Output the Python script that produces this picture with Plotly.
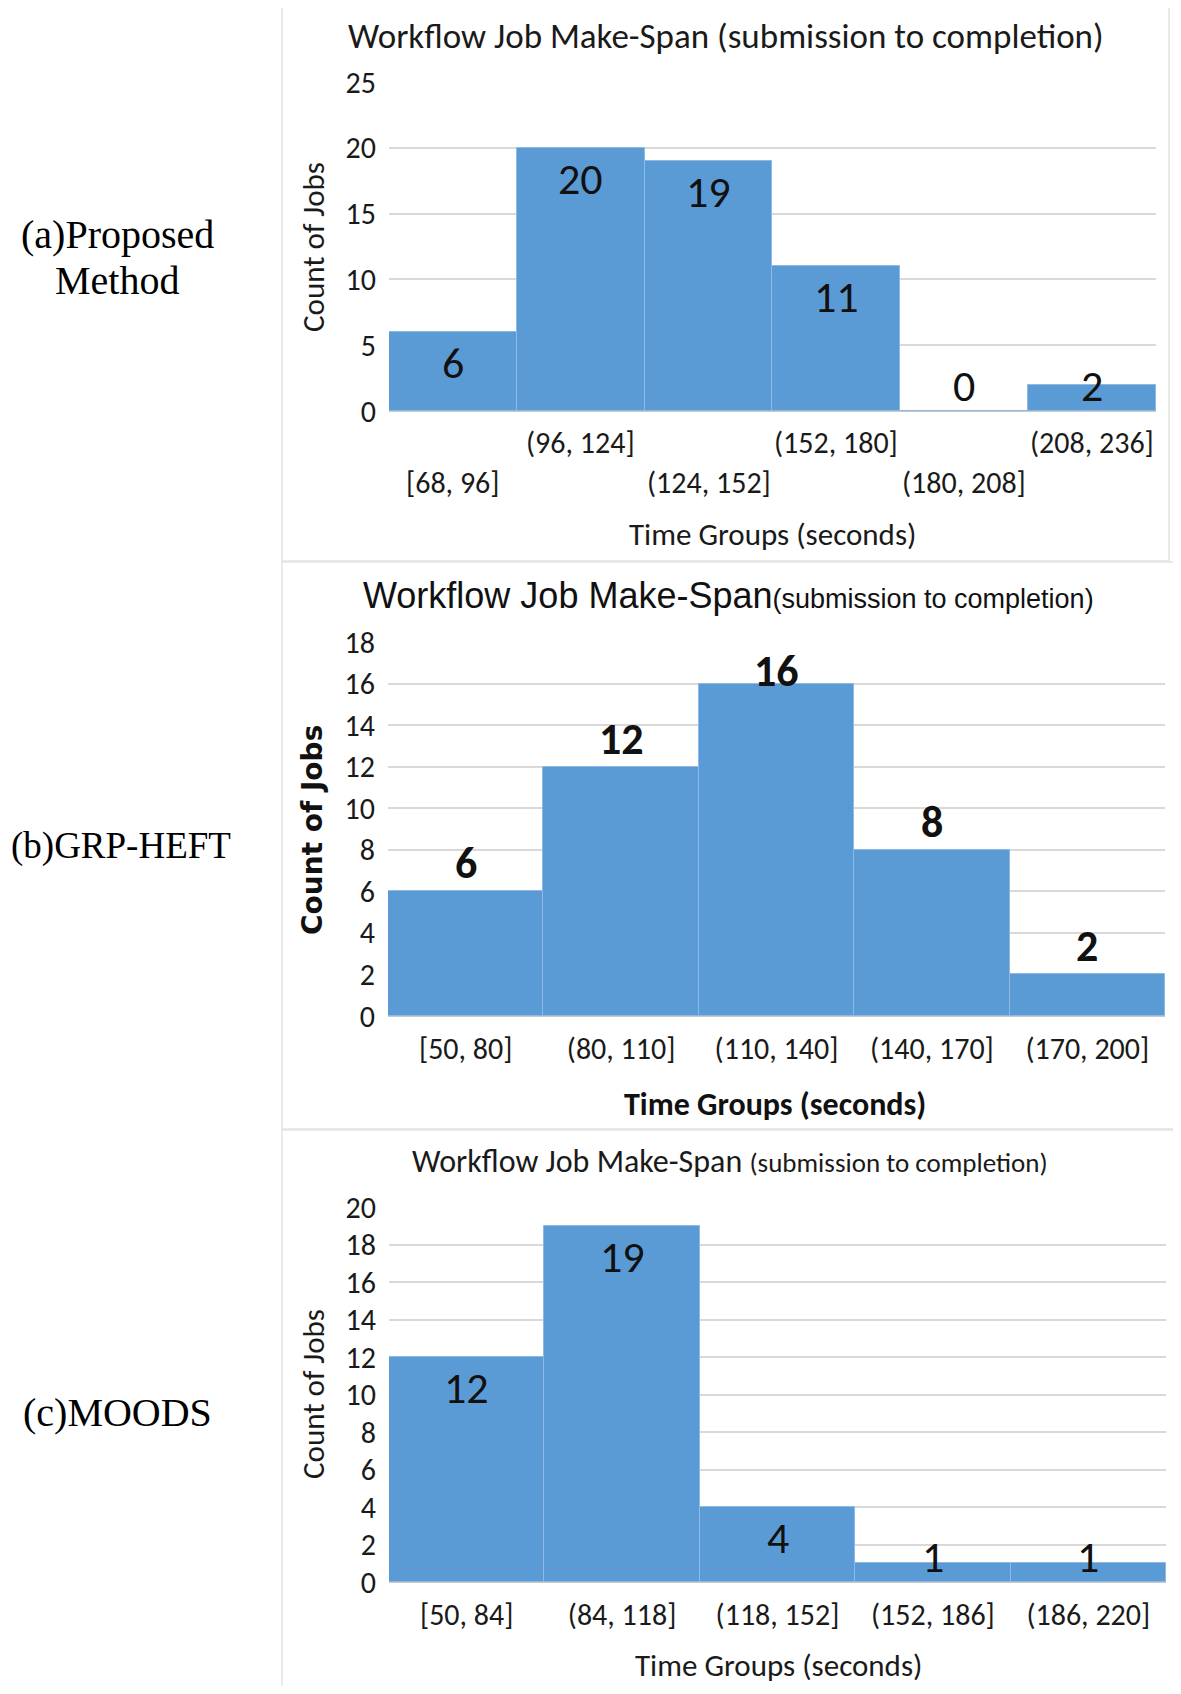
import plotly.graph_objects as go

# page body has an 8px default margin: figure is sized so the page fits the window
OFF = 8
FW, FH = 1181 - 2 * OFF, 1694 - 2 * OFF

# ---------------- data ----------------
a_cats = ["[68, 96]", "(96, 124]", "(124, 152]", "(152, 180]", "(180, 208]", "(208, 236]"]
a_vals = [6, 20, 19, 11, 0, 2]
b_cats = ["[50, 80]", "(80, 110]", "(110, 140]", "(140, 170]", "(170, 200]"]
b_vals = [6, 12, 16, 8, 2]
c_cats = ["[50, 84]", "(84, 118]", "(118, 152]", "(152, 186]", "(186, 220]"]
c_vals = [12, 19, 4, 1, 1]
a_yticks = [0, 5, 10, 15, 20, 25]
b_yticks = [0, 2, 4, 6, 8, 10, 12, 14, 16, 18]
c_yticks = [0, 2, 4, 6, 8, 10, 12, 14, 16, 18, 20]
panel_names = ["(a)Proposed", "Method", "(b)GRP-HEFT", "(c)MOODS"]
title_main = "Workflow Job Make-Span"
title_sub = "(submission to completion)"
y_title = "Count of Jobs"
x_title = "Time Groups (seconds)"

BAR = "#5B9BD5"
GRID = "#d9d9d9"
CAL = "Carlito, Lato, 'Open Sans', sans-serif"
ARIAL = "'Liberation Sans', Arial, sans-serif"
SERIF = "'Liberation Serif', 'Times New Roman', serif"
TXT = "#1a1a1a"

def px(x):
    return (x - OFF) / FW

def py(y):
    return 1 - (y - OFF) / FH

# plot-area geometry in page pixels (left, right, top, bottom)
geo = {
    "a": (389, 1156, 82, 411),
    "b": (388, 1165, 642, 1016),
    "c": (389, 1166, 1207, 1582),
}

fig = go.Figure()

panels = [
    ("a", a_cats, a_vals, a_yticks, 25, "x", "y"),
    ("b", b_cats, b_vals, b_yticks, 18, "x2", "y2"),
    ("c", c_cats, c_vals, c_yticks, 20, "x3", "y3"),
]

for key, cats, vals, yt, ymax, xr, yr in panels:
    fig.add_trace(go.Bar(
        x=cats, y=vals, xaxis=xr, yaxis=yr,
        marker=dict(color=BAR, line=dict(color="#8db9e4", width=1)),
        showlegend=False, hoverinfo="x+y",
    ))

TICKSZ = 30
layout_axes = {}
for i, (key, cats, vals, yt, ymax, xr, yr) in enumerate(panels):
    l, r, t, b = geo[key]
    sx = "" if i == 0 else str(i + 1)
    layout_axes["xaxis" + sx] = dict(
        domain=[px(l), px(r)], anchor=yr, type="category",
        showgrid=False, zeroline=False, showline=False, ticks="",
        showticklabels=(key != "a"), automargin=False,
        tickfont=dict(family=CAL, size=TICKSZ, color=TXT),
        ticklabelstandoff=12,
    )
    layout_axes["yaxis" + sx] = dict(
        domain=[py(b), py(t)], anchor=xr, range=[0, ymax],
        tickvals=yt, showgrid=True, gridcolor=GRID, gridwidth=2,
        zeroline=True, zerolinecolor="#c8c8c8", zerolinewidth=2,
        showline=False, ticks="", automargin=False,
        tickfont=dict(family=CAL, size=TICKSZ, color=TXT),
        ticklabelstandoff=12,
    )

fig.update_layout(
    width=FW, height=FH, margin=dict(l=0, r=0, t=0, b=0, autoexpand=False),
    paper_bgcolor="white", plot_bgcolor="white",
    bargap=0, **layout_axes,
)

# panel frames
frames = [(282, 1169, 1, 561), (282, 1180, 562, 1129), (282, 1180, 1130, 1693)]
for l, r, t, b in frames:
    fig.add_shape(type="rect", xref="paper", yref="paper",
                  x0=px(l), x1=px(r), y0=py(b), y1=py(t),
                  line=dict(color="#e3e3e3", width=1.5), layer="below")

def note(x, y, text, font, **kw):
    fig.add_annotation(x=px(x), y=py(y), xref="paper", yref="paper", text=text,
                       showarrow=False, xanchor="center", yanchor="middle",
                       font=font, **kw)

# staggered x labels of panel (a)
for j, c in enumerate(a_cats):
    ypix = 482 if j % 2 == 0 else 443
    fig.add_annotation(x=c, xref="x", y=py(ypix), yref="paper", text=c,
                       showarrow=False, xanchor="center", yanchor="middle",
                       font=dict(family=CAL, size=TICKSZ, color=TXT))

# data labels
def add_labels(key, cats, vals, ymax, xr, yr, inside, font):
    l, r, t, b = geo[key]
    ppu = (b - t) / ymax
    for c, v in zip(cats, vals):
        h = v * ppu
        if inside:
            shift = -min(31, h - 25)
        else:
            shift = min(28, (ymax - v) * ppu - 29)
        fig.add_annotation(x=c, y=v, xref=xr, yref=yr, text=str(v),
                           showarrow=False, xanchor="center", yanchor="middle",
                           yshift=shift, font=font)

add_labels("a", a_cats, a_vals, 25, "x", "y", True,
           dict(family=CAL, size=44, color="#111"))
add_labels("b", b_cats, b_vals, 18, "x2", "y2", False,
           dict(family=CAL, size=44, color="#111", weight="bold"))
add_labels("c", c_cats, c_vals, 20, "x3", "y3", True,
           dict(family=CAL, size=44, color="#111"))

# titles
note(726, 36, f"{title_main} {title_sub}", dict(family=CAL, size=35, color=TXT))
note(728, 596, f"{title_main}<span style='font-size:27px'>{title_sub}</span>",
     dict(family=ARIAL, size=36, color="#111"))
note(730, 1161, f"{title_main} <span style='font-size:27px'>{title_sub}</span>",
     dict(family=CAL, size=32, color=TXT))

# y titles
note(313, 247, y_title, dict(family=CAL, size=31, color=TXT), textangle=-90)
note(313, 830, y_title, dict(family="'DejaVu Sans', Verdana, sans-serif", size=28,
                             color="#111", weight="bold"), textangle=-90)
note(313, 1394, y_title, dict(family=CAL, size=31, color=TXT), textangle=-90)

# x titles
note(772, 534, x_title, dict(family=CAL, size=31, color=TXT))
note(775, 1104, x_title, dict(family=CAL, size=32, color="#111", weight="bold"))
note(778, 1665, x_title, dict(family=CAL, size=31, color=TXT))

# panel names (left)
name_pos = [(117, 234), (117, 280), (121, 846), (117, 1412)]
name_size = [40, 40, 37, 40]
for name, (nx, ny), sz in zip(panel_names, name_pos, name_size):
    note(nx, ny, name, dict(family=SERIF, size=sz, color="#000"))

fig.write_html("out.html")
